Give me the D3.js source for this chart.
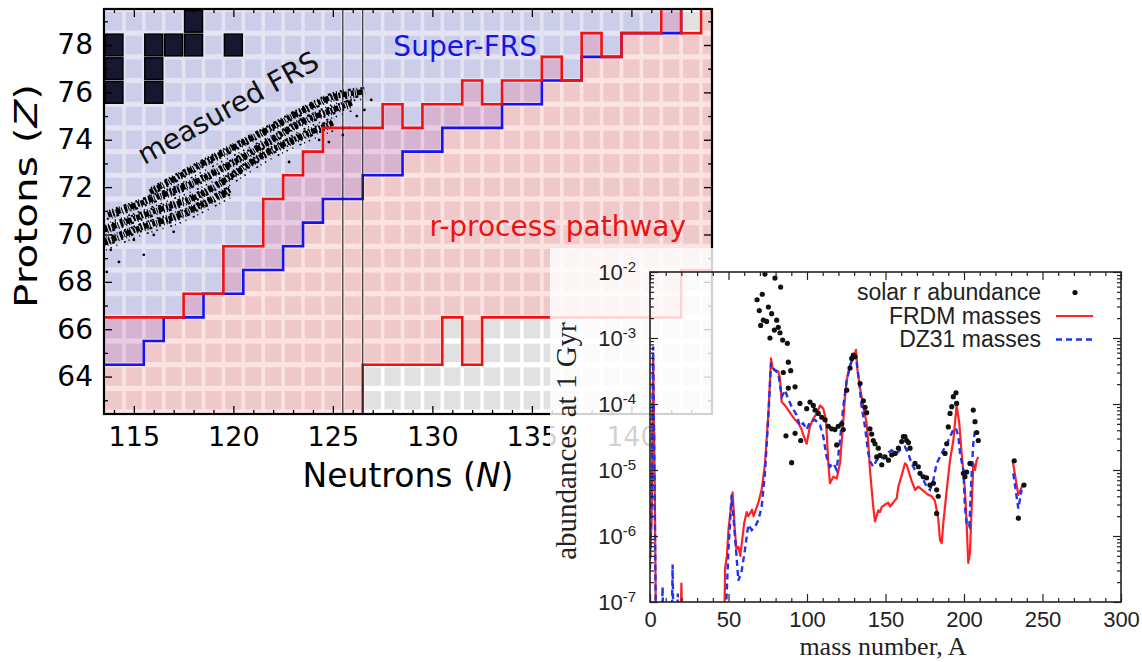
<!DOCTYPE html>
<html><head><meta charset="utf-8">
<script src="https://cdn.jsdelivr.net/npm/d3@7"></script>
<style>body{margin:0;background:#fff;} svg{display:block;}</style>
</head><body>
<svg id="c" width="1142" height="662"></svg>
<script>
// ---------------- nuclear chart data ----------------
const neutrons   = [114,115,116,117,118,119,120,121,122,123,124,125,126,127,128,129,130,131,132,133,134,135,136,137,138,139,140,141,142,143,144];
const protonRows = [62,63,64,65,66,67,68,69,70,71,72,73,74,75,76,77,78,79,80];
// highest Z of r-process pathway per N
const rUpperZ    = [66,66,66,66,67,67,69,69,71,72,73,74,74,74,75,74,75,75,76,75,76,76,77,76,78,77,78,78,80,78,80];
// lowest Z of r-process pathway per N
const rLowerZ    = [61,61,61,61,61,61,61,61,61,61,61,61,61,65,65,65,65,67,65,67,67,67,67,67,67,67,67,67,67,69,69];
// lowest Z reachable at Super-FRS per N
const reachMinZ  = [65,65,66,67,67,68,68,69,69,70,71,72,72,73,73,74,74,75,75,75,76,76,77,77,78,78,79,79,79,81,81];
// measured masses (dark cells)
const measuredN  = [114,114,114,116,116,116,117,118,118,120];
const measuredZ  = [76,77,78,76,77,78,78,78,79,78];
// measured FRS ion streaks (N,Z)
const frsStreaks = [
  [[115.81,71.79],[118.32,72.93],[121.69,74.41],[123.35,75.17],[125.01,75.81],[126.62,76.02]],
  [[113.70,70.82],[115.81,71.46],[118.32,72.30],[121.69,73.86],[123.35,74.71],[125.01,75.26],[125.96,75.55]],
  [[113.50,70.19],[115.81,70.91],[118.32,71.67],[121.69,73.44],[123.35,74.12],[125.01,74.71]],
  [[113.50,69.64],[115.31,70.27],[117.32,70.82],[119.83,71.88]]
];
const frsDotsN = [113.84,114.25,115.0,116.0,117.0,118.27,119.78,122.80,124.31,125.82,126.58,126.93,113.64,115.5,124.8,125.5,126.2];
const frsDotsZ = [69.35,68.84,69.77,69.98,70.11,71.25,71.67,73.06,73.99,74.50,75.26,75.68,68.42,69.14,73.9,74.2,75.0];
const nTickLabels = [115,120,125,130,135,140];
const zTickLabels = [64,66,68,70,72,74,76,78];
const nMinorTicks = [114,116,117,118,119,121,122,123,124,126,127,128,129,131,132,133,134,136,137,138,139,141,142,143,144];
const zMinorTicks = [63,65,67,69,71,73,75,77,79];
const magicLinesN = [125.5,126.5];

// ---------------- abundance data ----------------
const solarA = [68.2,69.6,70.5,71.5,72.2,73.2,74.3,75.4,76.4,77.5,79.2,79.6,80.7,81.7,82.8,83.2,84.5,84.9,86.6,87.5,88.1,88.1,89.6,90.2,92.4,92.4,95.5,96,99.8,101.9,104,105.1,107.2,109.4,111.5,113.6,115.7,117.8,118.9,119.9,122.1,123.1,125.3,127.4,128.5,129.5,130.6,133.8,135.9,137,138,140.1,141.2,142.2,143.3,144.4,145.4,146.5,147.6,149.7,151.9,154,156.1,158.2,160.3,161.4,162.4,163.5,164.6,165.6,168.8,170.9,172,174.1,176.2,178.3,180.5,182.6,183.6,182.6,187.9,189,190,191.1,192.2,193.2,194.9,195.3,199.6,200.6,201.7,203.8,205.9,207,208.1,209.1,232,234.6,238.2];
const solarY = [3.8e-3,2.6e-3,1.55e-3,4.6e-3,1.86e-3,9.3e-3,1.78e-3,2.95e-3,1.0e-3,2.34e-3,1.32e-3,8.1e-3,1.86e-3,1.45e-3,1.2e-3,5.9e-3,9.3e-4,3.0e-4,3.3e-5,8.3e-4,4.3e-4,1.74e-4,3.2e-4,1.29e-5,1.82e-4,3.6e-5,1.02e-4,2.8e-5,8.5e-5,1.07e-4,9.5e-5,8.1e-5,7.2e-5,6.3e-5,5.75e-5,4.6e-5,4.2e-5,4.1e-5,2.4e-5,4.6e-5,5.0e-5,4.1e-5,1.62e-4,3.5e-4,4.9e-4,5.5e-4,5.2e-4,2.04e-4,1.12e-4,8.9e-5,7.4e-5,4.2e-5,3.5e-5,2.8e-5,2.5e-5,1.58e-5,2.14e-5,1.66e-5,1.2e-5,1.58e-5,1.41e-5,1.7e-5,1.78e-5,2.14e-5,2.7e-5,3.2e-5,3.2e-5,2.8e-5,2.6e-5,2.14e-5,1.26e-5,1.12e-5,8.9e-6,7.9e-6,7.6e-6,5.9e-6,6.3e-6,5.0e-6,4.0e-6,2.2e-6,1.78e-5,2.5e-5,4.5e-5,7.2e-5,9.1e-5,1.29e-4,1.48e-4,1.02e-4,8.9e-6,7.9e-6,9.3e-6,1.26e-5,8.1e-5,5.4e-5,3.7e-5,2.8e-5,1.38e-5,1.86e-6,5.9e-6];
// FRDM masses (null = gap)
const frdmA = [0,1,2,3,4,19,20,21,47,47.8,49,50,52.6,54,55,56.3,57.5,58.5,60,61.6,62.5,63.7,65,66,68,69,71.1,73.2,75.4,77.1,78,79.6,81.7,82.8,83.9,86,88.1,90.2,92.4,94.5,96.6,97.6,99.8,101.9,104,106.2,108.3,110.4,112.1,113.6,114.6,116.8,118.9,121,122.7,124.2,125.3,127.4,129.5,131.2,132.1,133.8,135.9,138,139.1,140.1,142.2,143.3,145.4,146.5,147.6,149.7,151.8,152.9,153.9,156.1,157.1,158.2,160.3,162.4,163.5,164.5,166.6,168.8,170.9,173,176.2,177.3,179.4,181.5,183.6,184.7,185.8,186.8,189,191.1,193.2,195.3,197,198.5,200.6,201.7,202.7,203.8,204.9,205.9,207,208.1,209.1,null,231,234.6,237.8];
const frdmY = [5e-7,1.6e-6,5e-4,6.3e-6,1e-8,1e-8,1.9e-7,1e-8,1e-8,3.2e-7,5e-7,1.26e-6,4.6e-6,1.26e-6,6.3e-7,6.9e-7,5e-7,7.9e-7,1.58e-6,2.3e-6,2.0e-6,2.2e-6,2.5e-6,2.0e-6,2.75e-6,3.2e-6,5e-6,1.2e-5,7.2e-5,4.9e-4,3.5e-4,3.3e-4,3.1e-4,2.45e-4,1.07e-4,9.5e-5,8.1e-5,6.8e-5,5.75e-5,5.1e-5,4.1e-5,3.4e-5,2.5e-5,4.6e-5,6.0e-5,7.2e-5,9.5e-5,8.5e-5,5.75e-5,1.26e-5,6.3e-6,7.9e-6,7.4e-6,1.26e-5,4.1e-5,1.29e-4,2.3e-4,3.9e-4,4.9e-4,6.6e-4,3.3e-4,1.74e-4,9.1e-5,5.1e-5,2.5e-5,1.0e-5,2.75e-6,1.66e-6,2.45e-6,2.3e-6,2.75e-6,3.0e-6,3.2e-6,2.8e-6,3.0e-6,3.5e-6,3.7e-6,5.6e-6,8.3e-6,1.26e-5,1.2e-5,1.0e-5,6.9e-6,5.0e-6,5.6e-6,5.1e-6,4.4e-6,4.2e-6,4.0e-6,3.4e-6,1.82e-6,8.7e-7,7.8e-7,1.55e-6,5.0e-6,1.41e-5,2.8e-5,9.5e-5,5.1e-5,1.78e-5,5.0e-6,1.55e-6,3.9e-7,5.5e-7,2.75e-6,1.26e-5,1.0e-5,1.41e-5,1.58e-5,null,1.38e-5,4.2e-6,6.3e-6];
// DZ31 masses
const dzA = [0,1,2,3,4,7,8,9,13.5,14.4,15.2,17,17.7,18.5,47,48.8,50,52,54.8,56.3,58.4,60.5,62.6,64.8,66.9,69,71.1,73.2,75.4,77.1,79,81.7,83.9,86,87.5,90.2,93.4,95.5,97.6,99.8,101.9,105.1,108.3,110.4,112.5,114.6,116.8,118.9,121,123.1,125.3,127.4,129.1,130.6,131.7,133.3,134.8,136.9,138,139.1,140.1,142.2,144.4,146.5,148.6,150.8,154,157.1,160.3,162.4,164.5,166.6,168.8,172,174.1,176.2,178.3,180.5,182.6,184.7,187.9,190,191.1,193.2,194.9,196.4,197.5,199.6,200.6,201.7,203.4,204.9,205.9,207,null,231.4,234.6,236.7];
const dzY = [3.2e-7,3.2e-6,7.4e-4,3.2e-6,1e-8,1e-8,1.7e-7,1e-8,1e-8,3.7e-7,1e-8,1e-8,1.35e-7,1e-8,1e-8,1.3e-7,6.3e-7,4.2e-6,6.2e-7,2.1e-7,3.0e-7,6.2e-7,1.48e-6,1.23e-6,1.38e-6,1.74e-6,2.75e-6,8.9e-6,6.5e-5,4.2e-4,3.3e-4,2.95e-4,1.29e-4,1.62e-4,1.29e-4,9.1e-5,6.8e-5,4.6e-5,5.1e-5,4.1e-5,5.4e-5,5.75e-5,4.8e-5,3.2e-5,1.58e-5,1.12e-5,1.26e-5,1.0e-5,2.8e-5,9.1e-5,2.3e-4,3.7e-4,5.2e-4,5.5e-4,4.2e-4,2.04e-4,9.1e-5,4.6e-5,2.8e-5,1.78e-5,1.35e-5,1.12e-5,1.41e-5,1.58e-5,1.51e-5,1.78e-5,2.0e-5,1.78e-5,2.14e-5,2.24e-5,1.78e-5,1.26e-5,1.0e-5,8.9e-6,7.1e-6,5.6e-6,5.0e-6,7.1e-6,1.26e-5,1.58e-5,2.24e-5,2.8e-5,3.2e-5,4.1e-5,4.3e-5,3.2e-5,1.78e-5,1.0e-5,2.75e-6,1.55e-6,1.38e-6,8.9e-6,2.5e-5,4.0e-5,null,8.9e-6,2.6e-6,5.0e-6];
const massTicks = [0,50,100,150,200,250,300];
const massMinor = [10,20,30,40,60,70,80,90,110,120,130,140,160,170,180,190,210,220,230,240,260,270,280,290];
const abundTicks = [1e-7,1e-6,1e-5,1e-4,1e-3,1e-2];
const legendLabels = ['solar r abundance','FRDM masses','DZ31 masses'];

// ---------------- drawing ----------------
const svg = d3.select('#c');
const L = {x0:104, x1:712, y0:9, y1:414};
const xN = d3.scaleLinear().domain([113.5,144.05]).range([L.x0,L.x1]);
const yZ = d3.scaleLinear().domain([62.42,79.52]).range([L.y1,L.y0]);

svg.append('clipPath').attr('id','clipL').append('rect')
  .attr('x',L.x0).attr('y',L.y0).attr('width',L.x1-L.x0).attr('height',L.y1-L.y0);
const gL = svg.append('g').attr('clip-path','url(#clipL)');

const cellFill = {b:'#cccde8', r:'#efc9c9', both:'#d6b3d1', none:'#e1e1e1'};
const gapFill  = {b:'#e3e3f4', r:'#fce2e2', both:'#e9cce0', none:'#ffffff'};
const cells = [];
neutrons.forEach((n,i)=>protonRows.forEach(z=>{
  const inR = z<=rUpperZ[i] && z>=rLowerZ[i];
  const inB = z>=reachMinZ[i];
  cells.push({n, z, t: inR&&inB ? 'both' : inR ? 'r' : inB ? 'b' : 'none'});
}));
gL.selectAll('rect.gap').data(cells).join('rect').attr('class','gap')
  .attr('x',d=>xN(d.n-0.5)).attr('y',d=>yZ(d.z+0.5))
  .attr('width',d=>xN(d.n+0.5)-xN(d.n-0.5)+0.5).attr('height',d=>yZ(d.z-0.5)-yZ(d.z+0.5)+0.5)
  .attr('fill',d=>gapFill[d.t]);
gL.selectAll('rect.cell').data(cells).join('rect').attr('class','cell')
  .attr('x',d=>xN(d.n-0.5)+1.8).attr('y',d=>yZ(d.z+0.5)+2.6)
  .attr('width',d=>xN(d.n+0.5)-xN(d.n-0.5)-3.6).attr('height',d=>yZ(d.z-0.5)-yZ(d.z+0.5)-5.2)
  .attr('fill',d=>cellFill[d.t]);
// measured masses
gL.selectAll('rect.meas').data(measuredN.map((n,i)=>({n, z:measuredZ[i]}))).join('rect').attr('class','meas')
  .attr('x',d=>xN(d.n-0.5)+1).attr('y',d=>yZ(d.z+0.5)+1)
  .attr('width',d=>xN(d.n+0.5)-xN(d.n-0.5)-2).attr('height',d=>yZ(d.z-0.5)-yZ(d.z+0.5)-2)
  .attr('fill','#17172f').attr('stroke','#000').attr('stroke-width',1.5);
// FRS streaks (speckled bands)
const lineNZ = d3.line().x(d=>xN(d[0])).y(d=>yZ(d[1])).curve(d3.curveCatmullRom);
const streakStyles = [
  {w:5.5, dash:'4 1 2 1.5 5 1 1 2 3 1 1 1 6 2 2 1', dx:0, dy:0},
  {w:2.2, dash:'1.5 2 1 3 2 1 1 4 3 2', dx:1, dy:-4},
  {w:2.2, dash:'2 3 1 2 1 1 3 4 1 2', dx:-1, dy:4},
  {w:1.6, dash:'1 4 1.5 5 1 7 2 3', dx:2, dy:7}
];
streakStyles.forEach((s,k)=>{
  gL.selectAll('path.streak'+k).data(frsStreaks).join('path').attr('class','streak'+k)
    .attr('d',lineNZ).attr('fill','none').attr('stroke','#000').attr('stroke-width',s.w)
    .attr('transform',`translate(${s.dx},${s.dy})`).attr('stroke-dasharray',s.dash);
});
gL.selectAll('circle.frs').data(frsDotsN.map((n,i)=>[n,frsDotsZ[i]])).join('circle').attr('class','frs')
  .attr('cx',d=>xN(d[0])).attr('cy',d=>yZ(d[1])).attr('r',1.4).attr('fill','#000');

// step lines
const stepPts = (arr, off) => neutrons.flatMap((n,i)=>[[n-0.5, arr[i]+off],[n+0.5, arr[i]+off]]);
const stepLine = d3.line().x(d=>xN(d[0])).y(d=>yZ(d[1]));
gL.append('path').attr('d',stepLine(stepPts(reachMinZ,-0.5))).attr('fill','none').attr('stroke','#1414f0').attr('stroke-width',2.6);
gL.append('path').attr('d',stepLine(stepPts(rUpperZ,0.5))).attr('fill','none').attr('stroke','#f01010').attr('stroke-width',2.6);
gL.append('path').attr('d',stepLine(stepPts(rLowerZ,-0.5))).attr('fill','none').attr('stroke','#f01010').attr('stroke-width',2.6);
gL.selectAll('line.magic').data(magicLinesN).join('line').attr('class','magic')
  .attr('x1',d=>xN(d)).attr('x2',d=>xN(d)).attr('y1',L.y0).attr('y2',L.y1)
  .attr('stroke','#222').attr('stroke-width',1.1);

// texts inside
gL.append('text').attr('transform','translate(228,108) rotate(-29)').attr('text-anchor','middle')
  .attr('dominant-baseline','central').attr('font-family','DejaVu Sans').attr('font-size',28).attr('fill','#111')
  .text('measured FRS');
svg.append('text').attr('x',xN(131.65)).attr('y',56).attr('text-anchor','middle')
  .attr('font-family','DejaVu Sans').attr('font-size',28).attr('fill','#1515e8').text('Super-FRS');
svg.append('text').attr('x',xN(136.3)).attr('y',236).attr('text-anchor','middle')
  .attr('font-family','DejaVu Sans').attr('font-size',28).attr('fill','#ee1111').text('r-process pathway');

// axes of nuclear chart
function styleAxis(g, fs, fam){ g.select('.domain').remove(); g.selectAll('line').attr('stroke','#000').attr('stroke-width',1.3);
  g.selectAll('text').attr('font-size',fs).attr('font-family',fam).attr('fill','#000'); }
svg.append('g').attr('transform',`translate(0,${L.y1})`).call(d3.axisBottom(xN).tickValues(nTickLabels).tickSize(-8).tickPadding(13).tickFormat(d3.format('d'))).call(g=>styleAxis(g,27,'DejaVu Sans'));
svg.append('g').attr('transform',`translate(0,${L.y1})`).call(d3.axisBottom(xN).tickValues(nMinorTicks).tickSize(-4).tickFormat('')).call(g=>styleAxis(g,27,'DejaVu Sans'));
svg.append('g').attr('transform',`translate(0,${L.y0})`).call(d3.axisTop(xN).tickValues(nTickLabels).tickSize(-8).tickFormat('')).call(g=>styleAxis(g,27,'DejaVu Sans'));
svg.append('g').attr('transform',`translate(0,${L.y0})`).call(d3.axisTop(xN).tickValues(nMinorTicks).tickSize(-4).tickFormat('')).call(g=>styleAxis(g,27,'DejaVu Sans'));
svg.append('g').attr('transform',`translate(${L.x0},0)`).call(d3.axisLeft(yZ).tickValues(zTickLabels).tickSize(-8).tickPadding(11).tickFormat(d3.format('d'))).call(g=>styleAxis(g,28,'DejaVu Sans'));
svg.append('g').attr('transform',`translate(${L.x0},0)`).call(d3.axisLeft(yZ).tickValues(zMinorTicks).tickSize(-4).tickFormat('')).call(g=>styleAxis(g,28,'DejaVu Sans'));
svg.append('g').attr('transform',`translate(${L.x1},0)`).call(d3.axisRight(yZ).tickValues(zTickLabels).tickSize(-8).tickFormat('')).call(g=>styleAxis(g,28,'DejaVu Sans'));
svg.append('g').attr('transform',`translate(${L.x1},0)`).call(d3.axisRight(yZ).tickValues(zMinorTicks).tickSize(-4).tickFormat('')).call(g=>styleAxis(g,28,'DejaVu Sans'));
svg.append('rect').attr('x',L.x0).attr('y',L.y0).attr('width',L.x1-L.x0).attr('height',L.y1-L.y0)
  .attr('fill','none').attr('stroke','#000').attr('stroke-width',2.2);
const pt = svg.append('text').attr('transform','translate(37,196) rotate(-90)').attr('text-anchor','middle')
  .attr('font-family','DejaVu Sans').attr('font-size',32).attr('fill','#000')
  .attr('textLength',224).attr('lengthAdjust','spacingAndGlyphs');
pt.append('tspan').text('Protons (');pt.append('tspan').attr('font-style','italic').text('Z');pt.append('tspan').text(')');
const nt = svg.append('text').attr('x',408).attr('y',487).attr('text-anchor','middle')
  .attr('font-family','DejaVu Sans').attr('font-size',33).attr('fill','#000');
nt.append('tspan').text('Neutrons (');nt.append('tspan').attr('font-style','italic').text('N');nt.append('tspan').text(')');

// ---------------- white veil ----------------
svg.append('rect').attr('x',550).attr('y',248).attr('width',592).attr('height',414).attr('fill','#fff').attr('opacity',0.82);

// ---------------- abundance plot ----------------
const A = {x0:650, x1:1121, y0:272, y1:602};
const xA = d3.scaleLinear().domain([0,300]).range([A.x0,A.x1]);
const yA = d3.scaleLog().domain([1e-7,1e-2]).range([A.y1,A.y0]);
svg.append('clipPath').attr('id','clipA').append('rect')
  .attr('x',A.x0).attr('y',A.y0).attr('width',A.x1-A.x0).attr('height',A.y1-A.y0);
const gA = svg.append('g').attr('clip-path','url(#clipA)');
const toPts = (xs,ys)=>xs.map((x,i)=> x==null ? null : [x, ys[i]]);
const lineA = d3.line().defined(d=>d!=null).x(d=>xA(d[0])).y(d=>yA(d[1]));
gA.append('path').attr('d',lineA(toPts(frdmA,frdmY))).attr('fill','none').attr('stroke','#f22').attr('stroke-width',2.2).attr('stroke-linejoin','round');
gA.append('path').attr('d',lineA(toPts(dzA,dzY))).attr('fill','none').attr('stroke','#2233ee').attr('stroke-width',2.4).attr('stroke-dasharray','6 4');
gA.selectAll('circle').data(solarA.map((a,i)=>[a,solarY[i]])).join('circle')
  .attr('cx',d=>xA(d[0])).attr('cy',d=>yA(d[1])).attr('r',2.6).attr('fill','#111');

const fA = 'Liberation Sans, Arial, sans-serif';
function styleA(g){ g.select('.domain').remove(); g.selectAll('line').attr('stroke','#222').attr('stroke-width',1.2);
  g.selectAll('text').attr('font-family',fA).attr('fill','#222'); }
svg.append('g').attr('transform',`translate(0,${A.y1})`).call(d3.axisBottom(xA).tickValues(massTicks).tickSize(-8).tickFormat(d3.format('d')))
  .call(styleA).call(g=>g.selectAll('text').attr('font-size',22).attr('y',25).attr('dy',null));
svg.append('g').attr('transform',`translate(0,${A.y1})`).call(d3.axisBottom(xA).tickValues(massMinor).tickSize(-4).tickFormat('')).call(styleA);
svg.append('g').attr('transform',`translate(0,${A.y0})`).call(d3.axisTop(xA).tickValues(massTicks).tickSize(-8).tickFormat('')).call(styleA);
svg.append('g').attr('transform',`translate(0,${A.y0})`).call(d3.axisTop(xA).tickValues(massMinor).tickSize(-4).tickFormat('')).call(styleA);
const yMinor = yA.ticks().filter(v=>abundTicks.indexOf(v)<0);
svg.append('g').attr('transform',`translate(${A.x0},0)`).call(d3.axisLeft(yA).tickValues(abundTicks).tickSize(-8).tickPadding(14).tickFormat(d=>''+Math.round(Math.log10(d))))
  .call(styleA).call(g=>g.selectAll('text').each(function(d){
    const t=d3.select(this); const e=t.text(); t.text(null).attr('font-size',22).attr('dy','0.35em');
    t.append('tspan').text('10'); t.append('tspan').attr('font-size',15).attr('dy','-0.55em').text(e);
  }));
svg.append('g').attr('transform',`translate(${A.x0},0)`).call(d3.axisLeft(yA).tickValues(yMinor).tickSize(-4).tickFormat('')).call(styleA);
svg.append('g').attr('transform',`translate(${A.x1},0)`).call(d3.axisRight(yA).tickValues(abundTicks).tickSize(-8).tickFormat('')).call(styleA);
svg.append('g').attr('transform',`translate(${A.x1},0)`).call(d3.axisRight(yA).tickValues(yMinor).tickSize(-4).tickFormat('')).call(styleA);
svg.append('rect').attr('x',A.x0).attr('y',A.y0).attr('width',A.x1-A.x0).attr('height',A.y1-A.y0)
  .attr('fill','none').attr('stroke','#222').attr('stroke-width',1.6);
svg.append('text').attr('x',883).attr('y',655).attr('text-anchor','middle').attr('font-family','Liberation Serif, Times New Roman, serif')
  .attr('font-size',26).attr('fill','#222').text('mass number, A');
svg.append('text').attr('transform','translate(576,441) rotate(-90)').attr('text-anchor','middle').attr('font-family','Liberation Serif, Times New Roman, serif')
  .attr('font-size',29).attr('fill','#222').text('abundances at 1 Gyr');
// legend
const legY = [300,323.5,347];
const lg = svg.append('g');
lg.selectAll('text').data(legendLabels).join('text').attr('x',1041).attr('y',(d,i)=>legY[i]).attr('text-anchor','end')
  .attr('font-family',fA).attr('font-size',23).attr('fill','#222').text(d=>d);
lg.append('circle').attr('cx',1075).attr('cy',legY[0]-7.5).attr('r',2.6).attr('fill','#111');
lg.append('line').attr('x1',1056).attr('x2',1093).attr('y1',legY[1]-7.5).attr('y2',legY[1]-7.5).attr('stroke','#f22').attr('stroke-width',2.2);
lg.append('line').attr('x1',1056).attr('x2',1093).attr('y1',legY[2]-7.5).attr('y2',legY[2]-7.5).attr('stroke','#2233ee').attr('stroke-width',2.4).attr('stroke-dasharray','6 4');
</script>
</body></html>
